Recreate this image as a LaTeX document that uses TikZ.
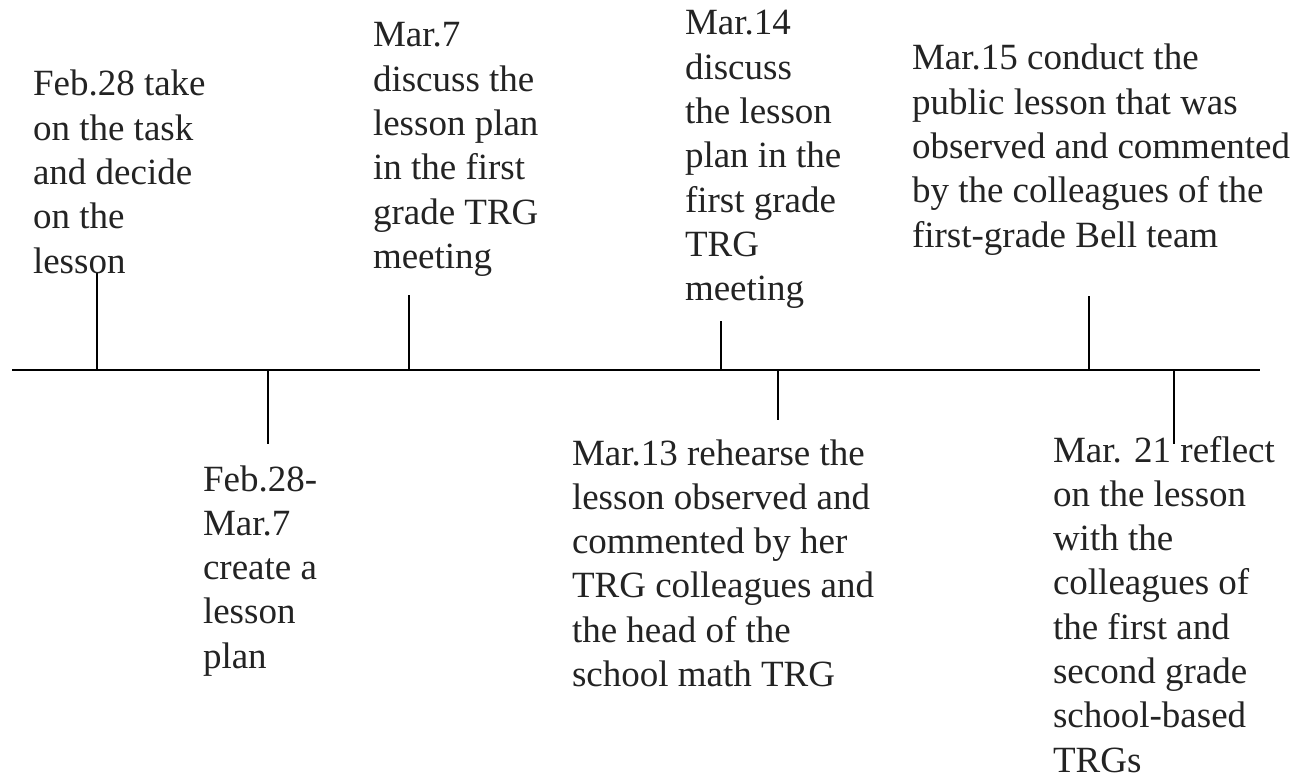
\documentclass[tikz,border=0pt]{standalone}
\usepackage{fontspec}
\setmainfont{Liberation Serif}
\definecolor{inkc}{RGB}{35,35,35}
\begin{document}
\begin{tikzpicture}[x=1pt,y=-1pt,
  lbl/.style={anchor=base west,inner sep=0pt,outer sep=0pt,text=inkc,
    font=\fontsize{37}{44.3}\selectfont},
  axisline/.style={line width=1.6pt,black},
  tickline/.style={line width=1.6pt,black}]
\useasboundingbox (0,0) rectangle (1297,781);
\newcommand{\blk}[1]{\vtop{\baselineskip=44.3pt\halign{##\hfil\cr #1\crcr}}}
% axis
\coordinate (L) at (12,370);
\coordinate (R) at (1260,370);
\draw[axisline] (L) -- (R);
% tick anchors on the axis and their free ends
\coordinate (a0) at (97,370);   \coordinate (a1) at (97,272);
\coordinate (b0) at (268,370);  \coordinate (b1) at (268,444);
\coordinate (c0) at (409,370);  \coordinate (c1) at (409,295);
\coordinate (d0) at (721,370);  \coordinate (d1) at (721,321);
\coordinate (e0) at (778,370);  \coordinate (e1) at (778,420);
\coordinate (f0) at (1089,370); \coordinate (f1) at (1089,296);
\coordinate (g0) at (1174,370); \coordinate (g1) at (1174,444);
\foreach \t in {a,b,c,d,e,f,g} \draw[tickline] (\t0) -- (\t1);
% labels
\node[lbl] (ta) at (33,96) {\blk{Feb.28 take\cr on the task\cr and decide\cr on the\cr lesson}};
\node[lbl] (tb) at (203,491) {\blk{Feb.28-\cr Mar.7\cr create a\cr lesson\cr plan}};
\node[lbl] (tc) at (373,47) {\blk{Mar.7\cr discuss the\cr lesson plan\cr in the first\cr grade TRG\cr meeting}};
\node[lbl] (td) at (685,35) {\blk{Mar.14\cr discuss\cr the lesson\cr plan in the\cr first grade\cr TRG\cr meeting}};
\node[lbl] (te) at (572,465) {\blk{Mar.13 rehearse the\cr lesson observed and\cr commented by her\cr TRG colleagues and\cr the head of the\cr school math TRG}};
\node[lbl] (tf) at (912,70) {\blk{Mar.15 conduct the\cr public lesson that was\cr observed and commented\cr by the colleagues of the\cr first-grade Bell team}};
\node[lbl] (tg) at (1053,462) {\blk{Mar. 21 reflect\cr on the lesson\cr with the\cr colleagues of\cr the first and\cr second grade\cr school-based\cr TRGs}};
\end{tikzpicture}
\end{document}
